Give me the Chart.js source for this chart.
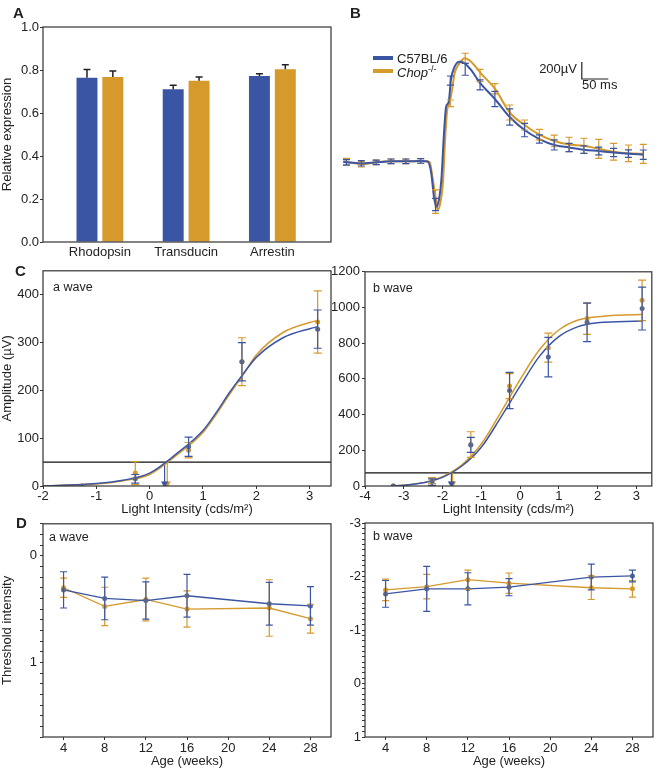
<!DOCTYPE html>
<html lang="en">
<head>
<meta charset="UTF-8">
<title>Retinal protein expression and ERG</title>
<script src="https://cdn.jsdelivr.net/npm/chart.js"></script>
<style>
    html, body { margin: 0; padding: 0; background: #fff; overflow: hidden; }
    #fig { position: relative; width: 657px; height: 772px; font-family: "Liberation Sans", Arial, sans-serif; color: #222; }
    #fig canvas { position: absolute; }
    .txt { position: absolute; line-height: 1; white-space: nowrap; font-size: 13px; }
    .panel { font-weight: bold; font-size: 15px; }
    .swatch { position: absolute; width: 20px; height: 4px; }
</style>
</head>
<body>
<div id="fig">
    <canvas id="chartA" width="340" height="262" style="left:0;top:0"></canvas>
    <canvas id="chartB" width="318" height="250" style="left:338px;top:0"></canvas>
    <canvas id="chartCa" width="340" height="255" style="left:0;top:262px"></canvas>
    <canvas id="chartCb" width="332" height="255" style="left:325px;top:262px"></canvas>
    <canvas id="chartDa" width="340" height="256" style="left:0;top:513px"></canvas>
    <canvas id="chartDb" width="332" height="256" style="left:325px;top:513px"></canvas>

    <!-- panel letters -->
    <div class="txt panel" style="left:13px;top:5px">A</div>
    <div class="txt panel" style="left:350px;top:5px">B</div>
    <div class="txt panel" style="left:15px;top:263px">C</div>
    <div class="txt panel" style="left:16px;top:515px">D</div>

    <!-- legend of B -->
    <div class="swatch" style="left:373px;top:56px;background:#3b55a5"></div>
    <div class="swatch" style="left:373px;top:69px;background:#d5992c"></div>
    <div class="txt" style="left:397px;top:52px">C57BL/6</div>
    <div class="txt" style="left:397px;top:65.5px"><i>Chop</i><span style="position:relative;top:-5px;font-size:9px">-/-</span></div>

    <!-- scale bar text of B -->
    <div class="txt" style="right:80px;top:62px">200µV</div>
    <div class="txt" style="left:582px;top:78px">50 ms</div>
</div>

<script>
    // ---------- A: relative expression ----------
    const proteins = ['Rhodopsin', 'Transducin', 'Arrestin'];
    const wtExpr = [0.764, 0.710, 0.772];
    const wtExprErr = [0.038, 0.019, 0.011];
    const chopExpr = [0.767, 0.750, 0.803];
    const chopExprErr = [0.028, 0.017, 0.022];

    // ---------- B: ERG trace (ms, µV) ----------
    const blueTraceT = [-6, 0, 28, 56, 84, 112, 140, 153, 160, 165, 169, 172, 179, 184, 188, 193, 197, 204, 213, 221, 235, 252, 280, 308, 336, 364, 392, 420, 448, 476, 504, 532, 560];
    const blueTraceV = [0, -4, -15, -4, 8, 8, 12, 5, -133, -408, -525, -506, -212, 341, 650, 709, 964, 1121, 1180, 1168, 1082, 930, 741, 529, 376, 270, 200, 171, 145, 129, 112, 98, 86];
    const orangeTraceT = [-6, 0, 28, 56, 84, 112, 140, 150, 157, 163, 169, 172, 177, 182, 186, 190, 194, 199, 204, 213, 223, 235, 254, 280, 308, 336, 364, 392, 420, 448, 476, 504, 532, 560];
    const orangeTraceV = [6, 4, -27, -4, 8, 8, 12, 10, 0, -212, -447, -565, -482, -247, 259, 612, 690, 840, 1043, 1160, 1220, 1180, 1040, 862, 582, 435, 321, 247, 206, 191, 155, 121, 102, 96];
    const sampleMs = [0, 28, 56, 84, 112, 140, 168, 196, 224, 252, 280, 308, 336, 364, 392, 420, 448, 476, 504, 532, 560];
    const blueMean = [-4, -15, -4, 8, 8, 12, -500, 958, 1090, 906, 741, 529, 376, 270, 200, 171, 145, 129, 112, 98, 86];
    const blueSem = [32, 32, 27, 27, 27, 27, 73, 53, 70, 59, 90, 95, 79, 49, 59, 49, 44, 45, 49, 44, 55];
    const orangeMean = [4, -27, -4, 8, 8, 12, -467, 690, 1220, 1017, 862, 582, 435, 321, 247, 206, 191, 155, 121, 102, 96];
    const orangeSem = [39, 32, 27, 27, 27, 27, 138, 39, 59, 73, 60, 88, 59, 62, 68, 85, 88, 112, 98, 98, 112];
    const scaleBarMs = 50, scaleBarUv = 200;
    const scaleBarAt = [444, 976]; // corner of the scale bar (ms, µV)

    // ---------- C: intensity response ----------
    const aIntensity = [-1.27, -0.27, 0.73, 1.73, 3.15];
    const wtA = [0, 15, 82, 260, 328];
    const wtAErr = [0, 9, 20, 40, 40];
    const chopA = [0, 27, 75, 260, 343];
    const chopAErr = [0, 24, 16, 50, 65];
    const aCurveX = [-2, -1.5, -1, -0.5, 0, 0.5, 1, 1.25, 1.5, 1.75, 2, 2.5, 3, 3.15];
    const wtCurveA = [0, 2, 5, 12, 27, 67, 116, 154, 196, 234, 269, 310, 329, 333];
    const chopCurveA = [0, 2, 4, 11, 24, 64, 112, 150, 192, 232, 274, 321, 342, 346];
    const aThreshold = 50;
    const aCross = [0.28, 0.33]; // wt, chop

    const bIntensity = [-3.27, -2.27, -1.27, -0.27, 0.73, 1.73, 3.15];
    const wtB = [0, 22, 230, 535, 722, 917, 994];
    const wtBErr = [0, 18, 42, 102, 111, 108, 120];
    const chopB = [0, 30, 232, 560, 775, 938, 1040];
    const chopBErr = [0, 17, 72, 70, 81, 88, 113];
    const bCurveX = [-3.3, -3, -2.5, -2, -1.5, -1, -0.5, 0, 0.5, 1, 1.5, 2, 2.5, 3.15];
    const wtCurveB = [0, 4, 18, 48, 112, 217, 383, 559, 726, 837, 893, 915, 920, 924];
    const chopCurveB = [0, 4, 19, 52, 118, 235, 411, 596, 763, 874, 930, 948, 957, 961];
    const bThreshold = 74;
    const bCross = [-1.77, -1.74];

    // ---------- D: threshold vs age ----------
    const ages = [4, 8, 12, 16, 24, 28];
    const ageTicks = [4, 8, 12, 16, 20, 24, 28];
    const wtAThr = [0.32, 0.40, 0.42, 0.375, 0.45, 0.47];
    const wtAThrErr = [0.17, 0.20, 0.175, 0.20, 0.20, 0.18];
    const chopAThr = [0.30, 0.475, 0.41, 0.50, 0.49, 0.59];
    const chopAThrErr = [0.09, 0.18, 0.20, 0.17, 0.265, 0.135];
    const wtBThr = [-1.675, -1.77, -1.77, -1.80, -1.99, -2.01];
    const wtBThrErr = [0.25, 0.42, 0.30, 0.16, 0.24, 0.11];
    const chopBThr = [-1.75, -1.81, -1.94, -1.875, -1.79, -1.77];
    const chopBThrErr = [0.20, 0.23, 0.18, 0.19, 0.22, 0.155];

    const BLUE = '#3b55a5';
    const ORANGE = '#d5992c';
    const BLUE_DOT = '#56678f';
    const AXIS = '#333';

    Chart.defaults.font.family = '"Liberation Sans", Arial, sans-serif';
    Chart.defaults.font.size = 13;
    Chart.defaults.color = '#222';
    Chart.defaults.animation = false;
    Chart.defaults.events = [];
    Chart.defaults.plugins.legend.display = false;
    Chart.defaults.plugins.tooltip.enabled = false;
    Chart.defaults.responsive = false;

    const xy = (xs, ys) => xs.map((x, i) => ({ x: x, y: ys[i] }));

    // box around the plot area
    const frame = {
        id: 'frame',
        afterDraw(chart) {
            const { ctx, chartArea: a } = chart;
            ctx.save();
            ctx.strokeStyle = AXIS;
            ctx.lineWidth = 1.2;
            ctx.strokeRect(a.left, a.top, a.right - a.left, a.bottom - a.top);
            ctx.restore();
        }
    };

    // vertical error bars, read from dataset.err
    const errorBars = {
        id: 'errorBars',
        afterDatasetsDraw(chart) {
            const ctx = chart.ctx;
            for (let d = chart.data.datasets.length - 1; d >= 0; d--) {
                const ds = chart.data.datasets[d];
                if (!ds.err) continue;
                const meta = chart.getDatasetMeta(d);
                const ys = meta.yScale;
                const c = ds.cap || 3.5;
                ctx.save();
                ctx.strokeStyle = ds.errColor || ds.borderColor;
                ctx.lineWidth = ds.errWidth || 1.2;
                meta.data.forEach((el, i) => {
                    const e = ds.err[i];
                    if (!e) return;
                    const v = ds.data[i].y;
                    const yTop = ys.getPixelForValue(v + e);
                    const yBot = ys.getPixelForValue(ds.upOnly ? v : v - e);
                    ctx.beginPath();
                    ctx.moveTo(el.x, yTop); ctx.lineTo(el.x, yBot);
                    ctx.moveTo(el.x - c, yTop); ctx.lineTo(el.x + c, yTop);
                    if (!ds.upOnly) { ctx.moveTo(el.x - c, yBot); ctx.lineTo(el.x + c, yBot); }
                    ctx.stroke();
                });
                ctx.restore();
            }
        }
    };

    // small label inside the plot area ("a wave", "b wave")
    function note(text, dx, dy) {
        return {
            id: 'note',
            afterDraw(chart) {
                const { ctx, chartArea } = chart;
                ctx.save();
                ctx.font = '12.5px "Liberation Sans", Arial, sans-serif';
                ctx.fillStyle = '#222';
                ctx.textBaseline = 'alphabetic';
                ctx.fillText(text, chartArea.left + dx, chartArea.top + dy);
                ctx.restore();
            }
        };
    }

    function yAxis(opts) {
        return {
            min: opts.min, max: opts.max, reverse: !!opts.reverse,
            grid: { drawOnChartArea: false, tickLength: 3, color: AXIS },
            border: { display: false },
            ticks: { stepSize: opts.step, padding: opts.pad, includeBounds: false, autoSkip: false, callback: opts.label, color: '#222' },
            title: { display: !!opts.title, text: opts.title, padding: 0, font: { size: 13 } },
            afterFit: s => { s.width = opts.width; }
        };
    }

    function xAxis(opts) {
        const axis = {
            type: 'linear', min: opts.min, max: opts.max,
            grid: { drawOnChartArea: false, tickLength: 3, color: AXIS },
            border: { display: false },
            ticks: { stepSize: opts.step, padding: opts.pad, includeBounds: false, autoSkip: false, maxRotation: 0, color: '#222' },
            title: { display: true, text: opts.title, padding: 0, font: { size: 13 } },
            afterFit: s => { s.height = opts.height; }
        };
        if (opts.tickValues) {
            axis.afterBuildTicks = s => { s.ticks = opts.tickValues.map(v => ({ value: v })); };
        }
        return axis;
    }

    const intLabel = v => Math.abs(v - Math.round(v)) < 1e-6 ? String(Math.round(v)) : '';

    // ---------- A ----------
    new Chart(document.getElementById('chartA'), {
        type: 'bar',
        data: {
            datasets: [
                { label: 'C57BL/6', data: xy([0, 1, 2], wtExpr), backgroundColor: BLUE, err: wtExprErr, upOnly: true, errColor: '#222', errWidth: 1.5, cap: 3.5 },
                { label: 'Chop-/-', data: xy([0, 1, 2], chopExpr), backgroundColor: ORANGE, err: chopExprErr, upOnly: true, errColor: '#222', errWidth: 1.5, cap: 3.5 }
            ]
        },
        options: {
            layout: { padding: { top: 27, right: 9, left: 0, bottom: 0 } },
            datasets: { bar: { categoryPercentage: 0.6, barPercentage: 0.81 } },
            scales: {
                x: {
                    type: 'linear', min: -0.66, max: 2.68, offset: false,
                    grid: { drawOnChartArea: false, drawTicks: false, offset: false },
                    border: { display: false },
                    afterBuildTicks: s => { s.ticks = proteins.map((p, i) => ({ value: i })); },
                    ticks: { callback: v => proteins[v], padding: 3, maxRotation: 0, autoSkip: false, color: '#222' },
                    afterFit: s => { s.height = 20; }
                },
                y: yAxis({ min: 0, max: 1, step: 0.2, pad: 1, width: 43, title: 'Relative expression', label: v => v.toFixed(1) })
            }
        },
        plugins: [frame, errorBars]
    });

    // ---------- B ----------
    new Chart(document.getElementById('chartB'), {
        type: 'line',
        data: {
            datasets: [
                { data: xy(sampleMs, blueMean), err: blueSem, showLine: false, pointRadius: 0, errColor: BLUE, cap: 3.5 },
                { data: xy(blueTraceT, blueTraceV), borderColor: BLUE, borderWidth: 2, pointRadius: 0, cubicInterpolationMode: 'monotone' },
                { data: xy(sampleMs, orangeMean), err: orangeSem, showLine: false, pointRadius: 0, errColor: ORANGE, cap: 3.5 },
                { data: xy(orangeTraceT, orangeTraceV), borderColor: ORANGE, borderWidth: 2, pointRadius: 0, cubicInterpolationMode: 'monotone' },
                {
                    data: [
                        { x: scaleBarAt[0], y: scaleBarAt[1] + scaleBarUv },
                        { x: scaleBarAt[0], y: scaleBarAt[1] },
                        { x: scaleBarAt[0] + scaleBarMs, y: scaleBarAt[1] }
                    ],
                    borderColor: '#222', borderWidth: 1.2, pointRadius: 0
                }
            ]
        },
        options: {
            layout: { padding: 0 },
            scales: {
                x: { type: 'linear', display: false, min: -16, max: 584 },
                y: { display: false, min: -1035, max: 1905 }
            }
        },
        plugins: [errorBars]
    });

    // ---------- C helper ----------
    function intensityChart(id, o) {
        const datasets = [
            { data: xy(o.x, o.wt), err: o.wtErr, showLine: false, pointRadius: 2.5, pointBackgroundColor: BLUE_DOT, pointBorderWidth: 0, borderColor: BLUE, cap: 4 },
            { data: xy(o.x, o.chop), err: o.chopErr, showLine: false, pointRadius: 2.5, pointBackgroundColor: ORANGE, pointBorderWidth: 0, borderColor: ORANGE, cap: 4 },
            { data: xy(o.curveX, o.wtCurve), borderColor: BLUE, borderWidth: 1.5, pointRadius: 0, cubicInterpolationMode: 'monotone' },
            { data: xy(o.curveX, o.chopCurve), borderColor: ORANGE, borderWidth: 1.5, pointRadius: 0, cubicInterpolationMode: 'monotone' },
            { data: [{ x: o.cross[0], y: o.thr }, { x: o.cross[0], y: o.tip }], borderColor: BLUE, backgroundColor: BLUE, borderWidth: 1.2, pointRadius: [0, 3], pointStyle: 'triangle', pointRotation: 180 },
            { data: [{ x: o.cross[1], y: o.thr }, { x: o.cross[1], y: o.tip }], borderColor: ORANGE, backgroundColor: ORANGE, borderWidth: 1.2, pointRadius: [0, 3], pointStyle: 'triangle', pointRotation: 180 },
            { data: [{ x: o.xMin, y: o.thr }, { x: o.xMax, y: o.thr }], borderColor: '#111', borderWidth: 1.2, pointRadius: 0 }
        ];
        return new Chart(document.getElementById(id), {
            type: 'line',
            data: { datasets: datasets },
            options: {
                layout: { padding: { top: 8, right: o.right, left: 0, bottom: 0 } },
                scales: {
                    x: xAxis({ min: o.xMin, max: o.xMax, step: 1, pad: 0, height: 31, title: 'Light Intensity (cds/m²)' }),
                    y: yAxis({ min: 0, max: o.yMax, step: o.yStep, pad: o.yPad, width: o.yWidth, title: o.yTitle })
                }
            },
            plugins: [frame, errorBars, note(o.note, o.nx, 20)]
        });
    }

    intensityChart('chartCa', {
        x: aIntensity, wt: wtA, wtErr: wtAErr, chop: chopA, chopErr: chopAErr,
        curveX: aCurveX, wtCurve: wtCurveA, chopCurve: chopCurveA,
        thr: aThreshold, cross: aCross, tip: 5,
        xMin: -2, xMax: 3.4, yMax: 450, yStep: 100, yPad: 1, yWidth: 43, right: 9,
        yTitle: 'Amplitude (µV)', note: 'a wave', nx: 10
    });

    intensityChart('chartCb', {
        x: bIntensity, wt: wtB, wtErr: wtBErr, chop: chopB, chopErr: chopBErr,
        curveX: bCurveX, wtCurve: wtCurveB, chopCurve: chopCurveB,
        thr: bThreshold, cross: bCross, tip: 14,
        xMin: -4, xMax: 3.4, yMax: 1200, yStep: 200, yPad: 2, yWidth: 40, right: 4,
        yTitle: '', note: 'b wave', nx: 8
    });

    // ---------- D helper ----------
    function ageChart(id, o) {
        return new Chart(document.getElementById(id), {
            type: 'line',
            data: {
                datasets: [
                    { data: xy(ages, o.wt), err: o.wtErr, borderColor: BLUE, borderWidth: 1.3, pointRadius: 2.5, pointBackgroundColor: BLUE_DOT, pointBorderWidth: 0, cap: 3.5 },
                    { data: xy(ages, o.chop), err: o.chopErr, borderColor: ORANGE, borderWidth: 1.3, pointRadius: 2.5, pointBackgroundColor: ORANGE, pointBorderWidth: 0, cap: 3.5 }
                ]
            },
            options: {
                layout: { padding: { top: 10, right: o.right, left: 0, bottom: 0 } },
                scales: {
                    x: xAxis({ min: 2, max: 30, step: 4, pad: 1, height: 32, title: 'Age (weeks)', tickValues: ageTicks }),
                    y: yAxis({ min: o.yMin, max: o.yMax, step: 0.1, reverse: true, pad: o.yPad, width: o.yWidth, title: o.yTitle, label: intLabel })
                }
            },
            plugins: [frame, errorBars, note(o.note, o.nx, 17)]
        });
    }

    ageChart('chartDa', {
        wt: wtAThr, wtErr: wtAThrErr, chop: chopAThr, chopErr: chopAThrErr,
        yMin: -0.3, yMax: 1.7, yPad: 3, yWidth: 43, right: 9,
        yTitle: 'Threshold intensity', note: 'a wave', nx: 6
    });

    ageChart('chartDb', {
        wt: wtBThr, wtErr: wtBThrErr, chop: chopBThr, chopErr: chopBThrErr,
        yMin: -3, yMax: 1, yPad: 1, yWidth: 40, right: 4,
        yTitle: '', note: 'b wave', nx: 8
    });
</script>
</body>
</html>
